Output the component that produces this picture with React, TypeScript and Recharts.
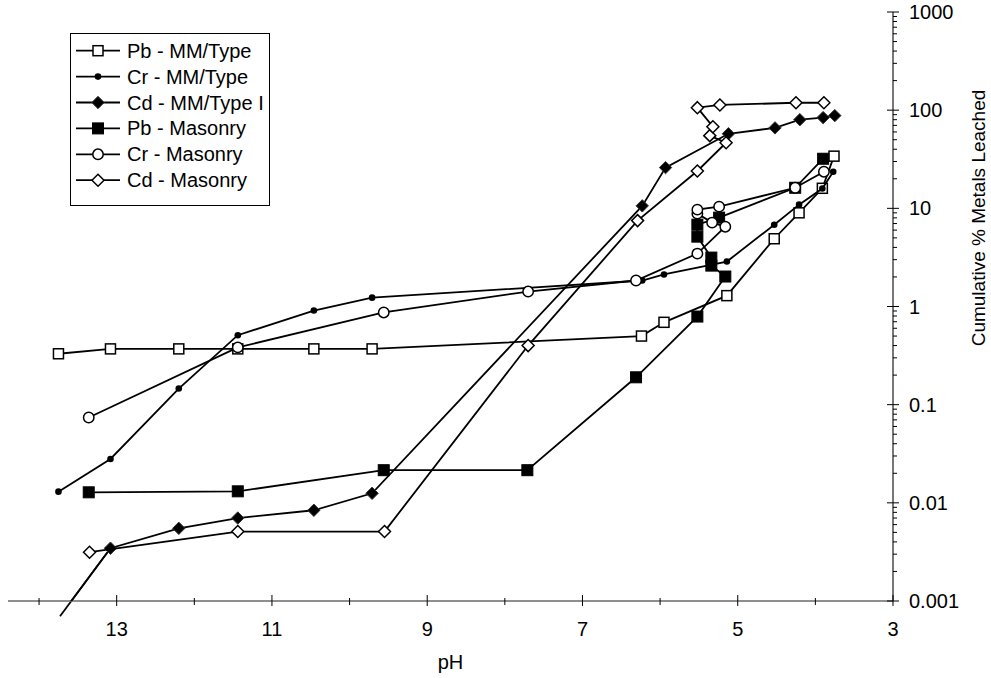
import React from 'react';
import { ScatterChart, Scatter, XAxis, YAxis, Legend, ReferenceLine } from 'recharts';

const FONT = '"Liberation Sans", Arial, Helvetica, sans-serif';

// ---- series names ----
const seriesNames = ['Pb - MM/Type', 'Cr - MM/Type', 'Cd - MM/Type I', 'Pb - Masonry', 'Cr - Masonry', 'Cd - Masonry'];

// ---- series values (pH, cumulative % leached) ----
const pbMMTypePH = [13.75, 13.08, 12.2, 11.44, 10.46, 9.71, 6.24, 5.95, 5.14, 4.53, 4.21, 3.91, 3.76];
const pbMMTypePct = [0.33, 0.37, 0.37, 0.37, 0.37, 0.37, 0.5, 0.69, 1.29, 4.9, 9.0, 16, 34];

const crMMTypePH = [13.75, 13.08, 12.2, 11.44, 10.46, 9.71, 6.23, 5.95, 5.14, 4.53, 4.21, 3.91, 3.77];
const crMMTypePct = [0.013, 0.028, 0.146, 0.51, 0.91, 1.23, 1.84, 2.12, 2.87, 6.8, 10.9, 15.9, 23.6];

const cdMMTypePH = [13.73, 13.08, 12.2, 11.44, 10.46, 9.71, 6.23, 5.93, 5.12, 4.52, 4.2, 3.9, 3.75];
const cdMMTypePct = [0.0007, 0.00345, 0.0055, 0.007, 0.0084, 0.0125, 10.6, 26, 57.5, 66, 80, 84, 88];

const pbMasonryPH = [13.36, 11.44, 9.56, 7.71, 6.31, 5.52, 5.16, 5.34, 5.34, 5.52, 5.52, 5.24, 4.26, 3.9];
const pbMasonryPct = [0.0128, 0.0131, 0.0215, 0.0215, 0.19, 0.79, 2.02, 2.61, 3.15, 5.15, 6.82, 8.04, 16.2, 32];

const crMasonryPH = [13.36, 11.44, 9.56, 7.7, 6.31, 5.52, 5.16, 5.33, 5.52, 5.52, 5.24, 4.26, 3.89];
const crMasonryPct = [0.074, 0.383, 0.87, 1.42, 1.84, 3.46, 6.5, 7.16, 8.83, 9.7, 10.4, 16.2, 23.6];

const cdMasonryPH = [13.35, 11.44, 9.55, 7.7, 6.29, 5.52, 5.15, 5.36, 5.32, 5.52, 5.23, 4.25, 3.89];
const cdMasonryPct = [0.00314, 0.0051, 0.0051, 0.4, 7.5, 24, 46.6, 55, 67.8, 106, 113, 119, 119];

// ---- axis ticks ----
const xTicks = [3, 4, 5, 6, 7, 8, 9, 10, 11, 12, 13, 14];
const xTickLabels = [13, 11, 9, 7, 5, 3];
const yMajorTicks = [0.001, 0.01, 0.1, 1, 10, 100, 1000];
const yTickLabels = ['0.001', '0.01', '0.1', '1', '10', '100', '1000'];
const yTicks: number[] = [];
yMajorTicks.forEach((m, i) => {
  if (i < yMajorTicks.length - 1) {
    for (let d = 1; d <= 9; d++) yTicks.push(+(m * d).toPrecision(6));
  } else yTicks.push(m);
});

const X_DOMAIN: [number, number] = [3, 14.4];
const Y_DOMAIN: [number, number] = [0.001, 1000];

const toPoints = (xs: number[], ys: number[]) => xs.map((x, i) => ({ x, y: ys[i] }));

type Kind = 'openSquare' | 'dot' | 'filledDiamond' | 'filledSquare' | 'openCircle' | 'openDiamond';

const Marker = ({ kind, cx, cy }: { kind: Kind; cx: number; cy: number }) => {
  const sw = 1.5;
  switch (kind) {
    case 'openSquare':
      return <rect x={cx - 5} y={cy - 5} width={10} height={10} fill="#fff" stroke="#000" strokeWidth={sw} />;
    case 'filledSquare':
      return <rect x={cx - 5.5} y={cy - 5.5} width={11} height={11} fill="#000" stroke="#000" strokeWidth={1} />;
    case 'dot':
      return <circle cx={cx} cy={cy} r={3.3} fill="#000" />;
    case 'openCircle':
      return <circle cx={cx} cy={cy} r={5.2} fill="#fff" stroke="#000" strokeWidth={sw} />;
    case 'filledDiamond':
      return (
        <polygon
          points={`${cx},${cy - 6.2} ${cx + 6.2},${cy} ${cx},${cy + 6.2} ${cx - 6.2},${cy}`}
          fill="#000"
          stroke="#333"
          strokeWidth={1}
        />
      );
    case 'openDiamond':
    default:
      return (
        <polygon
          points={`${cx},${cy - 6} ${cx + 6},${cy} ${cx},${cy + 6} ${cx - 6},${cy}`}
          fill="#fff"
          stroke="#000"
          strokeWidth={sw}
        />
      );
  }
};

const series: { name: string; kind: Kind; data: { x: number; y: number }[] }[] = [
  { name: seriesNames[0], kind: 'openSquare', data: toPoints(pbMMTypePH, pbMMTypePct) },
  { name: seriesNames[1], kind: 'dot', data: toPoints(crMMTypePH, crMMTypePct) },
  { name: seriesNames[2], kind: 'filledDiamond', data: toPoints(cdMMTypePH, cdMMTypePct) },
  { name: seriesNames[3], kind: 'filledSquare', data: toPoints(pbMasonryPH, pbMasonryPct) },
  { name: seriesNames[4], kind: 'openCircle', data: toPoints(crMasonryPH, crMasonryPct) },
  { name: seriesNames[5], kind: 'openDiamond', data: toPoints(cdMasonryPH, cdMasonryPct) },
];

const XTick = (props: any) => {
  const { x, y, payload } = props;
  const v = payload.value;
  const major = xTickLabels.includes(v);
  return (
    <g>
      <line x1={x} x2={x} y1={y - (major ? 6 : 3)} y2={y + (major ? 5 : 4)} stroke="#000" strokeWidth={1} />
      {major && (
        <text x={x} y={y + 35} textAnchor="middle" fontSize={20} fontFamily={FONT} fill="#000">
          {v}
        </text>
      )}
    </g>
  );
};

const YTick = (props: any) => {
  const { x, y, payload } = props;
  const idx = yMajorTicks.findIndex((m) => Math.abs(payload.value / m - 1) < 1e-6);
  if (idx >= 0) {
    return (
      <g>
        <line x1={x - 6} x2={x + 6} y1={y} y2={y} stroke="#000" strokeWidth={1} />
        <text x={x + 16} y={y + 7} textAnchor="start" fontSize={20} fontFamily={FONT} fill="#000">
          {yTickLabels[idx]}
        </text>
      </g>
    );
  }
  return <line x1={x} x2={x + 4} y1={y} y2={y} stroke="#000" strokeWidth={1} />;
};

const XTitle = (props: any) => {
  const vb = props.viewBox || { x: 0, y: 0, width: 0 };
  return (
    <text x={vb.x + vb.width / 2} y={vb.y + 68} textAnchor="middle" fontSize={20} fontFamily={FONT} fill="#000">
      pH
    </text>
  );
};

const YTitle = (props: any) => {
  const vb = props.viewBox || { x: 0, y: 0 };
  const cx = vb.x + 85;
  const cy = vb.y + 206;
  return (
    <text
      x={cx}
      y={cy}
      transform={`rotate(-90, ${cx}, ${cy})`}
      textAnchor="middle"
      dominantBaseline="central"
      fontSize={19}
      fontFamily={FONT}
      fill="#000"
    >
      Cumulative % Metals Leached
    </text>
  );
};

const LegendBox = () => (
  <svg width={200} height={173} style={{ display: 'block', overflow: 'hidden' }}>
    <rect x={0.5} y={0.5} width={199} height={172} fill="#fff" stroke="#000" strokeWidth={1} />
    {series.map((s, i) => {
      const cy = 17.7 + 25.9 * i;
      return (
        <g key={s.name}>
          <line x1={6} x2={50} y1={cy} y2={cy} stroke="#000" strokeWidth={1.8} />
          <Marker kind={s.kind} cx={28} cy={cy} />
          <text x={57} y={cy + 7} fontSize={20} fontFamily={FONT} fill="#000">
            {s.name}
          </text>
        </g>
      );
    })}
  </svg>
);

export default function App() {
  return (
    <div style={{ position: 'absolute', left: 0, top: 0, width: 991, height: 678, fontFamily: FONT, background: '#fff' }}>
      <ScatterChart width={991} height={678} margin={{ top: 12, right: 8, bottom: 7, left: 8 }} style={{ fontFamily: FONT }}>
        <XAxis
          type="number"
          dataKey="x"
          domain={X_DOMAIN}
          reversed
          allowDataOverflow
          ticks={xTicks}
          interval={0}
          tickLine={false}
          tickSize={0}
          tickMargin={0}
          axisLine={{ stroke: '#6a6a6a', strokeWidth: 1.5 }}
          tick={<XTick />}
          height={70}
          label={<XTitle />}
        />
        <YAxis
          type="number"
          dataKey="y"
          orientation="right"
          scale="log"
          domain={Y_DOMAIN}
          allowDataOverflow
          ticks={yTicks}
          interval={0}
          tickLine={false}
          tickSize={0}
          tickMargin={0}
          axisLine={{ stroke: '#4a4a4a', strokeWidth: 1.5 }}
          tick={<YTick />}
          width={90}
          label={<YTitle />}
        />
        <Legend
          layout="vertical"
          align="center"
          verticalAlign="middle"
          wrapperStyle={{ left: 70, top: 33, width: 200, height: 173 }}
          content={<LegendBox />}
        />
        <ReferenceLine
          segment={[
            { x: cdMMTypePH[0], y: cdMMTypePct[0] },
            { x: cdMMTypePH[1], y: cdMMTypePct[1] },
          ]}
          stroke="#000"
          strokeWidth={1.8}
          ifOverflow="visible"
        />
        {series.map((s) => (
          <Scatter
            key={s.name}
            name={s.name}
            data={s.data}
            line={{ stroke: '#000', strokeWidth: 1.8 }}
            lineType="joint"
            isAnimationActive={false}
            shape={(p: any) =>
              p.payload && p.payload.y < Y_DOMAIN[0] ? <g /> : <Marker kind={s.kind} cx={p.cx} cy={p.cy} />
            }
          />
        ))}
      </ScatterChart>
    </div>
  );
}
